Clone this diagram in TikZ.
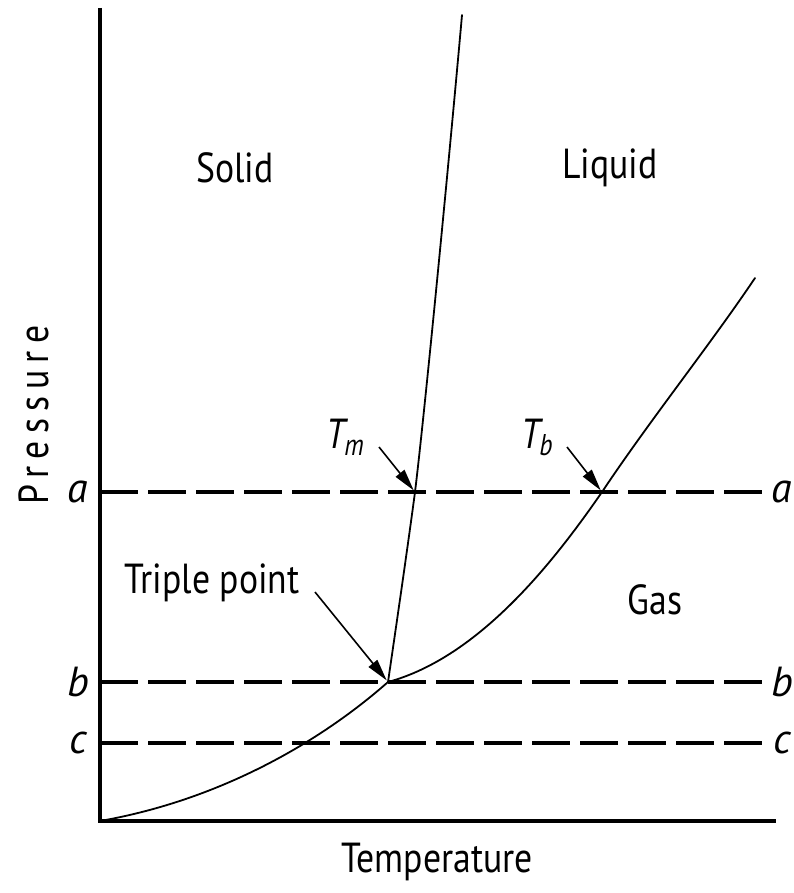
\documentclass[tikz,border=0pt]{standalone}
\usepackage{fontspec}
\setmainfont{PT Sans}
\usetikzlibrary{arrows.meta}
\begin{document}
\begin{tikzpicture}[x=1pt,y=-1pt,
  lbl/.style={inner sep=0pt,font=\fontsize{42}{46}\selectfont},
  phase/.style={line width=1.8pt,line cap=round},
  isobar/.style={line width=4pt,dash pattern=on 38pt off 10pt},
  ptr/.style={line width=1.6pt,-{Triangle[length=22pt,width=11pt]},shorten >=2pt}]
\useasboundingbox (0,0) rectangle (793,893);
% axes
\coordinate (o) at (100,821);
\coordinate (ytop) at (100,8);
\coordinate (xend) at (776,821);
\draw[line width=3.5pt] (ytop) -- (o) -- (xend);
% isobars
\coordinate (aL) at (100,492); \coordinate (aR) at (770,492);
\coordinate (bL) at (100,682); \coordinate (bR) at (770,682);
\coordinate (cL) at (100,743); \coordinate (cR) at (770,743);
\draw[isobar] (aL) -- (aR);
\draw[isobar] (bL) -- (bR);
\draw[isobar] (cL) -- (cR);
% key points
\coordinate (tp) at (388,682);
\coordinate (tm) at (415,492);
\coordinate (tb) at (602,492);
% curves
\draw[phase] (o) .. controls (220,800) and (320,742) .. (tp);
\draw[phase] (tp) .. controls (400,600) and (410,530) .. (tm)
   .. controls (425,410) and (450,150) .. (462,15);
\draw[phase] (tp) .. controls (480,657) and (555,560) .. (tb)
   .. controls (650,420) and (710,345) .. (755,278);
% arrows
\coordinate (tmA) at (379,447);
\coordinate (tbA) at (567,447);
\coordinate (tpA) at (315,592);
\draw[ptr] (tmA) -- (tm);
\draw[ptr] (tbA) -- (tb);
\draw[ptr] (tpA) -- (tp);
% labels
\node[lbl] (solid) at (235,168) {\scalebox{0.85}[1]{Solid}};
\node[lbl] (liquid) at (610,168) {\scalebox{0.85}[1]{Liquid}};
\node[lbl] (gas) at (655,600) {\scalebox{0.85}[1]{Gas}};
\node[lbl] (triple) at (212,583) {\scalebox{0.85}[1]{Triple point}};
\node[lbl] (tmL) at (345,437) {\scalebox{0.85}[1]{\itshape T\kern-1pt\raisebox{-7pt}{\fontsize{30}{32}\selectfont m}}};
\node[lbl] (tbL) at (537,437) {\scalebox{0.85}[1]{\itshape T\kern-1pt\raisebox{-7pt}{\fontsize{30}{32}\selectfont b}}};
\node[lbl] (pres) at (34,415) [rotate=90] {\scalebox{0.85}[1]{\addfontfeature{LetterSpace=20}Pressure}};
\node[lbl] (temp) at (437,862) {\scalebox{0.85}[1]{Temperature}};
\node[lbl] (la) at (78,492) {\itshape a};
\node[lbl] (lb) at (78,682) {\itshape b};
\node[lbl] (lc) at (78,743) {\itshape c};
\node[lbl] (ra) at (782,492) {\itshape a};
\node[lbl] (rb) at (782,682) {\itshape b};
\node[lbl] (rc) at (782,743) {\itshape c};
\end{tikzpicture}
\end{document}
